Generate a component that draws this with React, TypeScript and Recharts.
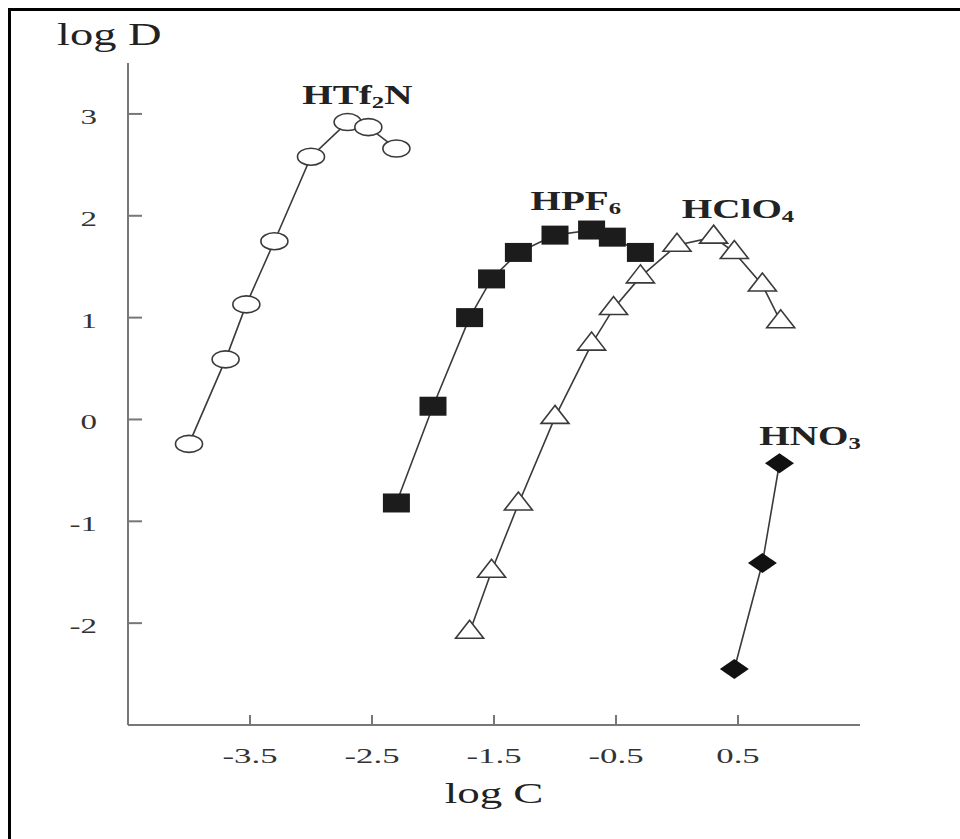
import React from "react";
import {
  ScatterChart,
  Scatter,
  XAxis,
  YAxis,
  ReferenceDot,
  Label,
} from "recharts";

// ---- data (log C, log D) ----
const htf2nX = [-4.0, -3.7, -3.53, -3.3, -3.0, -2.7, -2.53, -2.3];
const htf2nY = [-0.24, 0.59, 1.13, 1.75, 2.58, 2.92, 2.87, 2.66];

const hpf6X = [-2.3, -2.0, -1.7, -1.52, -1.3, -1.0, -0.7, -0.53, -0.3];
const hpf6Y = [-0.82, 0.13, 1.0, 1.38, 1.64, 1.81, 1.86, 1.79, 1.64];

const hclo4X = [-1.7, -1.52, -1.3, -1.0, -0.7, -0.52, -0.3, 0.0, 0.3, 0.47, 0.7, 0.85];
const hclo4Y = [-2.09, -1.49, -0.83, 0.02, 0.74, 1.09, 1.4, 1.71, 1.79, 1.64, 1.32, 0.96];

const hno3X = [0.47, 0.7, 0.84];
const hno3Y = [-2.45, -1.41, -0.43];

const xTicks = [-3.5, -2.5, -1.5, -0.5, 0.5];
const yTicks = [-2, -1, 0, 1, 2, 3];

// series labels: [main, subscript, tail, x, y]
const seriesLabels: [string, string, string, number, number][] = [
  ["HTf", "2", "N", -2.62, 3.1],
  ["HPF", "6", "", -0.83, 2.06],
  ["HClO", "4", "", 0.5, 1.98],
  ["HNO", "3", "", 1.09, -0.25],
];

const toPts = (xs: number[], ys: number[]) => xs.map((x, i) => ({ x, y: ys[i] }));

const FONT = "'Liberation Serif', 'Times New Roman', Times, serif";
const SX = 1.5;
const AXIS = "#777";
const LINE = "#3a3a3a";
const INK = "#222";

const EllipseShape = (p: any) => (
  <ellipse cx={p.cx} cy={p.cy} rx={13.5} ry={8.5} fill="#fff" stroke={LINE} strokeWidth={1.6} />
);
const SquareShape = (p: any) => (
  <rect x={p.cx - 13.5} y={p.cy - 9.5} width={27} height={19} fill="#1c1c1c" />
);
const TriangleShape = (p: any) => {
  const h = 18;
  const w = 28;
  const top = p.cy - (2 * h) / 3;
  const bot = p.cy + h / 3;
  return (
    <polygon
      points={`${p.cx},${top} ${p.cx - w / 2},${bot} ${p.cx + w / 2},${bot}`}
      fill="#fff"
      stroke={LINE}
      strokeWidth={1.6}
      strokeLinejoin="miter"
    />
  );
};
const DiamondShape = (p: any) => (
  <polygon
    points={`${p.cx},${p.cy - 10} ${p.cx + 14.5},${p.cy} ${p.cx},${p.cy + 10} ${p.cx - 14.5},${p.cy}`}
    fill="#111"
  />
);

const YTick = (p: any) => {
  const { x, y, payload } = p;
  return (
    <g>
      <line x1={x} x2={x + 14} y1={y} y2={y} stroke={AXIS} strokeWidth={2} />
      <text
        transform={`translate(${x - 31},${y + 10}) scale(${SX},1)`}
        textAnchor="end"
        fontFamily={FONT}
        fontSize={22}
        fill="#333"
      >
        {payload.value}
      </text>
    </g>
  );
};

const XTick = (p: any) => {
  const { x, y, payload } = p;
  return (
    <g>
      <line x1={x} x2={x} y1={y} y2={y - 10} stroke={AXIS} strokeWidth={2} />
      <text
        transform={`translate(${x},${y + 38}) scale(1.58,1)`}
        textAnchor="middle"
        fontFamily={FONT}
        fontSize={22}
        fill="#333"
      >
        {payload.value}
      </text>
    </g>
  );
};

const XTitle = (p: any) => {
  const vb = p.viewBox;
  return (
    <text
      transform={`translate(${vb.x + vb.width / 2},${vb.y + 78}) scale(${SX},1)`}
      textAnchor="middle"
      fontFamily={FONT}
      fontSize={30}
      fill={INK}
    >
      log C
    </text>
  );
};

const YTitle = (p: any) => {
  const vb = p.viewBox;
  return (
    <text
      transform={`translate(${vb.x - 11},${vb.y - 18}) scale(${SX},1)`}
      textAnchor="start"
      fontFamily={FONT}
      fontSize={31}
      fill={INK}
    >
      log D
    </text>
  );
};

const makeLabelShape = (main: string, sub: string, tail: string) => (p: any) => (
  <text
    transform={`translate(${p.cx},${p.cy}) scale(1.45,1)`}
    textAnchor="middle"
    fontFamily={FONT}
    fontWeight="bold"
    fontSize={27}
    fill={INK}
  >
    {main}
    <tspan fontSize={17} dy={4}>
      {sub}
    </tspan>
    {tail ? <tspan dy={-4}>{tail}</tspan> : null}
  </text>
);

export default function App() {
  return (
    <div
      style={{
        position: "fixed",
        left: 8,
        top: 8,
        width: 952,
        height: 831,
        borderTop: "3px solid #000",
        borderLeft: "3px solid #000",
        boxSizing: "border-box",
        background: "#fff",
      }}
    >
      <ScatterChart
        width={949}
        height={828}
        margin={{ top: 52, right: 100, bottom: 54, left: 57 }}
      >
        <XAxis
          type="number"
          dataKey="x"
          domain={[-4.5, 1.5]}
          ticks={xTicks}
          allowDataOverflow
          height={60}
          tickLine={false}
          tickSize={0}
          tickMargin={0}
          axisLine={{ stroke: AXIS, strokeWidth: 2 }}
          tick={<XTick />}
          interval={0}
        >
          <Label content={<XTitle />} />
        </XAxis>
        <YAxis
          type="number"
          dataKey="y"
          domain={[-3, 3.5]}
          ticks={yTicks}
          allowDataOverflow
          width={60}
          tickLine={false}
          tickSize={0}
          tickMargin={0}
          axisLine={{ stroke: AXIS, strokeWidth: 2 }}
          tick={<YTick />}
          interval={0}
        >
          <Label content={<YTitle />} />
        </YAxis>
        <Scatter
          name="HTf2N"
          data={toPts(htf2nX, htf2nY)}
          line={{ stroke: LINE, strokeWidth: 1.6 }}
          lineType="joint"
          shape={EllipseShape}
          isAnimationActive={false}
        />
        <Scatter
          name="HPF6"
          data={toPts(hpf6X, hpf6Y)}
          line={{ stroke: LINE, strokeWidth: 1.6 }}
          lineType="joint"
          shape={SquareShape}
          isAnimationActive={false}
        />
        <Scatter
          name="HClO4"
          data={toPts(hclo4X, hclo4Y)}
          line={{ stroke: LINE, strokeWidth: 1.6 }}
          lineType="joint"
          shape={TriangleShape}
          isAnimationActive={false}
        />
        <Scatter
          name="HNO3"
          data={toPts(hno3X, hno3Y)}
          line={{ stroke: LINE, strokeWidth: 1.6 }}
          lineType="joint"
          shape={DiamondShape}
          isAnimationActive={false}
        />
        {seriesLabels.map(([m, s, t, x, y]) => (
          <ReferenceDot
            key={m}
            x={x}
            y={y}
            r={0}
            ifOverflow="visible"
            shape={makeLabelShape(m, s, t)}
          />
        ))}
      </ScatterChart>
    </div>
  );
}
